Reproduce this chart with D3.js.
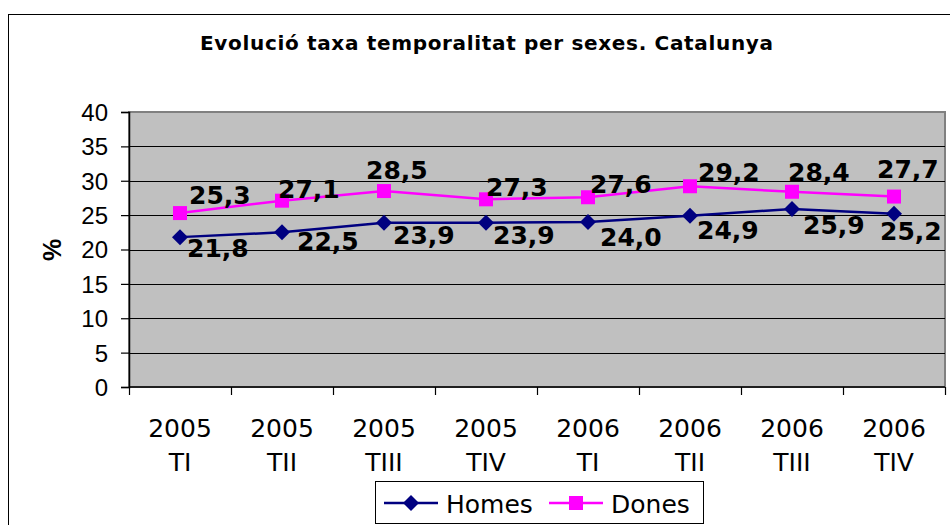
<!DOCTYPE html>
<html>
<head>
<meta charset="utf-8">
<script src="https://cdn.jsdelivr.net/npm/d3@7"></script>
<style>
html,body{margin:0;padding:0;background:#fff;}
svg{display:block;}
</style>
</head>
<body>
<svg id="chart" width="950" height="525"></svg>
<script>
// ---- data ----
const categoryYears = ["2005","2005","2005","2005","2006","2006","2006","2006"];
const categoryQuarters = ["TI","TII","TIII","TIV","TI","TII","TIII","TIV"];
const homesValues = [21.8, 22.5, 23.9, 23.9, 24.0, 24.9, 25.9, 25.2];
const donesValues = [25.3, 27.1, 28.5, 27.3, 27.6, 29.2, 28.4, 27.7];
const yTicks = [0, 5, 10, 15, 20, 25, 30, 35, 40];
const seriesNames = ["Homes", "Dones"];
const titleText = "Evolució taxa temporalitat per sexes. Catalunya";
const yAxisTitle = "%";

// ---- layout (label offsets relative to points) ----
const homesLabelOffsets = [[7,20],[15,18],[9,21],[7,21],[12,24],[7,23],[11,25],[-14,26]];
const donesLabelOffsets = [[9,-9],[-4,-3],[-18,-12],[0,-3],[2,-4],[8,-5],[-4,-11],[-17,-19]];

const svg = d3.select("#chart");
const fmt = v => d3.format(".1f")(v).replace(".", ",");

// outer chart border
svg.append("rect").attr("x", 8.5).attr("y", 14.5).attr("width", 960).attr("height", 530)
  .attr("fill", "#fff").attr("stroke", "#000").attr("stroke-width", 1);

// title
svg.append("text").attr("x", 486.5).attr("y", 50).attr("text-anchor", "middle")
  .attr("font-family", "DejaVu Sans").attr("font-weight", "bold").attr("font-size", 20)
  .attr("textLength", 573).attr("lengthAdjust", "spacing")
  .attr("fill", "#000").text(titleText);

const plot = {left: 129, right: 945, top: 112, bottom: 387};
const idx = d3.range(categoryYears.length);
const x = d3.scaleBand().domain(idx).range([plot.left, plot.right]).paddingInner(0).paddingOuter(0);
const y = d3.scaleLinear().domain([0, 40]).range([plot.bottom, plot.top]);
const cx = i => x(i) + x.bandwidth() / 2;

// plot background
svg.append("rect").attr("x", plot.left).attr("y", plot.top)
  .attr("width", plot.right - plot.left).attr("height", plot.bottom - plot.top)
  .attr("fill", "#C0C0C0").attr("stroke", "#808080").attr("stroke-width", 2);

// gridlines
svg.append("g").selectAll("line").data(yTicks.filter(t => t > 0 && t < 40)).join("line")
  .attr("x1", plot.left).attr("x2", plot.right)
  .attr("y1", d => Math.round(y(d)) + 0.5).attr("y2", d => Math.round(y(d)) + 0.5)
  .attr("stroke", "#000").attr("stroke-width", 1);

// y axis
const yAxis = d3.axisLeft(y).tickValues(yTicks).tickSize(8).tickPadding(13).tickFormat(d3.format("d"));
const gy = svg.append("g").attr("transform", `translate(${plot.left},0)`).call(yAxis);
gy.select(".domain").attr("stroke", "#000").attr("stroke-width", 1.5);
gy.selectAll(".tick line").attr("stroke", "#000").attr("stroke-width", 1.2);
gy.selectAll(".tick text").attr("font-family", "Liberation Sans, Arial, sans-serif")
  .attr("font-size", 24).attr("fill", "#000").attr("dy", "0.35em");

// x axis line + ticks at band boundaries
const boundaries = idx.map(i => x(i)).concat([plot.right]);
svg.append("line").attr("x1", plot.left).attr("x2", plot.right)
  .attr("y1", plot.bottom).attr("y2", plot.bottom).attr("stroke", "#000").attr("stroke-width", 1.5);
svg.append("g").selectAll("line").data(boundaries).join("line")
  .attr("x1", d => Math.round(d) + 0.5).attr("x2", d => Math.round(d) + 0.5)
  .attr("y1", plot.bottom).attr("y2", plot.bottom + 8)
  .attr("stroke", "#000").attr("stroke-width", 1.2);

// x labels
const xl = svg.append("g").attr("font-family", "DejaVu Sans, Verdana, sans-serif")
  .attr("font-size", 25).attr("fill", "#000").attr("text-anchor", "middle");
xl.selectAll("text.yr").data(idx).join("text").attr("class", "yr")
  .attr("x", d => cx(d)).attr("y", 437).text(d => categoryYears[d]);
xl.selectAll("text.q").data(idx).join("text").attr("class", "q")
  .attr("x", d => cx(d)).attr("y", 471).text(d => categoryQuarters[d]);

// y axis title
svg.append("text").attr("transform", "translate(61,250) rotate(-90)")
  .attr("text-anchor", "middle").attr("font-family", "Liberation Sans, Arial, sans-serif")
  .attr("font-weight", "bold").attr("font-size", 25).attr("fill", "#000").text(yAxisTitle);

// lines
const homesColor = "#000080", donesColor = "#FF00FF";
const line = d3.line().x((d, i) => cx(i)).y(d => y(d));
svg.append("path").datum(homesValues).attr("d", line).attr("fill", "none")
  .attr("stroke", homesColor).attr("stroke-width", 2.5);
svg.append("path").datum(donesValues).attr("d", line).attr("fill", "none")
  .attr("stroke", donesColor).attr("stroke-width", 2.5);

// markers
const diamond = (px, py, r) => `M${px},${py - r}L${px + r},${py}L${px},${py + r}L${px - r},${py}Z`;
svg.append("g").selectAll("path").data(homesValues).join("path")
  .attr("d", (d, i) => diamond(cx(i), y(d), 8)).attr("fill", homesColor);
svg.append("g").selectAll("rect").data(donesValues).join("rect")
  .attr("x", (d, i) => cx(i) - 7).attr("y", d => y(d) - 7)
  .attr("width", 14).attr("height", 14).attr("fill", donesColor);

// data labels
const lab = svg.append("g").attr("font-family", "DejaVu Sans, Verdana, sans-serif")
  .attr("font-weight", "bold").attr("font-size", 25).attr("fill", "#000");
lab.selectAll("text.h").data(homesValues).join("text").attr("class", "h")
  .attr("x", (d, i) => cx(i) + homesLabelOffsets[i][0])
  .attr("y", (d, i) => y(d) + homesLabelOffsets[i][1]).text(d => fmt(d));
lab.selectAll("text.d").data(donesValues).join("text").attr("class", "d")
  .attr("x", (d, i) => cx(i) + donesLabelOffsets[i][0])
  .attr("y", (d, i) => y(d) + donesLabelOffsets[i][1]).text(d => fmt(d));

// legend
const lg = svg.append("g");
lg.append("rect").attr("x", 375.5).attr("y", 481.5).attr("width", 328).attr("height", 42)
  .attr("fill", "#fff").attr("stroke", "#000").attr("stroke-width", 1);
const legendItems = [
  {name: seriesNames[0], color: homesColor, x0: 384, shape: "diamond"},
  {name: seriesNames[1], color: donesColor, x0: 549, shape: "square"}
];
legendItems.forEach(it => {
  const ly = 503;
  lg.append("line").attr("x1", it.x0).attr("x2", it.x0 + 54).attr("y1", ly).attr("y2", ly)
    .attr("stroke", it.color).attr("stroke-width", 2.5);
  if (it.shape === "diamond") {
    lg.append("path").attr("d", diamond(it.x0 + 27, ly, 8)).attr("fill", it.color);
  } else {
    lg.append("rect").attr("x", it.x0 + 20).attr("y", ly - 7).attr("width", 14).attr("height", 14).attr("fill", it.color);
  }
  lg.append("text").attr("x", it.x0 + 62).attr("y", 513)
    .attr("font-family", "DejaVu Sans, Verdana, sans-serif").attr("font-size", 25)
    .attr("fill", "#000").text(it.name);
});
</script>
</body>
</html>
